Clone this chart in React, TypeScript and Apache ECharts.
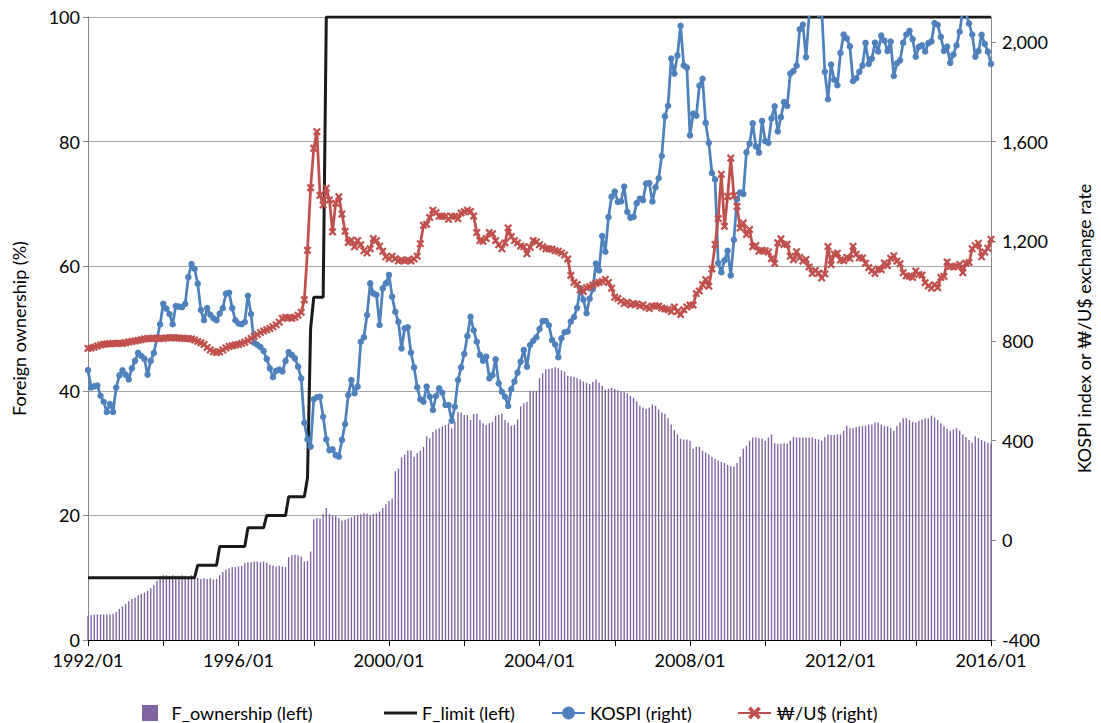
import React, { useEffect, useRef } from "react";
import * as echarts from "echarts";

// ---------- categories (monthly, 1992/01 .. 2016/01) ----------
const firstYear = 1992;
const lastYear = 2016;
const months: string[] = [];
for (let y = firstYear; y <= lastYear; y++) {
  for (let m = 1; m <= 12; m++) {
    if (y === lastYear && m > 1) break;
    months.push(`${y}/${m < 10 ? "0" + m : m}`);
  }
}

// ---------- series values ----------
// Foreign ownership of listed shares (%), left axis
const fOwnership: number[] = [
  3.9, 4.0, 4.1, 4.1, 4.1, 4.1, 4.1, 4.1, 4.2, 4.5, 5.0, 5.4, // 1992
  5.8, 6.2, 6.6, 6.8, 7.2, 7.4, 7.6, 7.9, 8.3, 8.8, 9.5, 10.2, // 1993
  10.4, 10.4, 10.3, 10.4, 10.3, 10.3, 10.4, 10.3, 10.2, 10.4, 10.3, 10.0, // 1994
  9.8, 9.9, 9.8, 9.9, 9.7, 9.8, 10.4, 10.9, 11.3, 11.5, 11.7, 11.7, // 1995
  11.8, 11.9, 12.3, 12.5, 12.5, 12.6, 12.6, 12.5, 12.6, 12.4, 12.1, 11.9, // 1996
  11.8, 11.9, 11.8, 11.7, 13.3, 13.6, 13.7, 13.6, 13.4, 12.6, 12.7, 14.2, // 1997
  19.4, 19.6, 19.5, 20.2, 21.2, 20.2, 20.0, 19.9, 19.6, 19.2, 19.3, 19.5, // 1998
  19.7, 19.9, 20.1, 20.2, 20.4, 20.3, 20.0, 20.2, 20.3, 20.6, 21.2, 21.8, // 1999
  22.3, 22.7, 27.1, 27.5, 29.3, 29.8, 30.4, 30.4, 29.4, 30.0, 30.4, 31.0, // 2000
  32.7, 32.4, 33.4, 33.8, 34.0, 34.3, 34.5, 34.8, 34.0, 35.0, 36.6, 36.5, // 2001
  36.1, 36.1, 35.3, 36.3, 36.3, 35.3, 34.8, 34.5, 34.8, 35.0, 36.0, 36.1, // 2002
  36.3, 35.3, 34.9, 34.4, 34.5, 35.4, 37.5, 38.0, 38.2, 40.0, 40.0, 40.0, // 2003
  42.0, 42.8, 43.4, 43.5, 43.6, 43.8, 43.6, 43.3, 43.1, 42.4, 42.3, 42.2, // 2004
  42.0, 41.8, 41.5, 41.3, 41.1, 41.4, 41.8, 41.3, 40.8, 40.2, 40.3, 40.5, // 2005
  40.3, 40.1, 39.9, 39.9, 39.6, 39.2, 38.9, 38.3, 37.6, 37.3, 37.1, 37.3, // 2006
  37.8, 37.6, 37.0, 36.5, 36.3, 35.6, 34.6, 33.7, 33.0, 32.3, 32.2, 32.2, // 2007
  32.0, 30.7, 31.0, 31.0, 30.4, 30.1, 29.8, 29.4, 29.1, 28.8, 28.6, 28.4, // 2008
  28.1, 27.9, 27.8, 28.4, 29.4, 30.7, 31.2, 32.0, 32.5, 32.5, 32.4, 32.3, // 2009
  32.0, 32.5, 33.0, 31.6, 31.5, 31.5, 31.6, 31.5, 32.0, 32.6, 32.5, 32.5, // 2010
  32.5, 32.5, 32.5, 32.5, 32.3, 32.2, 32.0, 32.6, 33.0, 32.9, 32.9, 33.0, // 2011
  33.0, 33.6, 34.4, 34.0, 34.0, 34.2, 34.3, 34.3, 34.4, 34.6, 34.6, 34.9, // 2012
  34.9, 34.6, 34.3, 34.3, 34.0, 33.6, 34.3, 34.9, 35.6, 35.6, 35.3, 35.0, // 2013
  34.9, 35.2, 35.4, 35.6, 35.6, 36.0, 35.7, 35.3, 34.8, 34.3, 33.9, 33.6, // 2014
  33.8, 34.0, 33.6, 33.0, 32.6, 32.1, 31.7, 32.7, 32.4, 32.1, 31.9, 31.7, // 2015
  31.6, // 2016/01
];

// Foreign ownership limit (%): month it took effect and new level
const fLimitSteps: [string, number][] = [
  ["1992/01", 10],
  ["1994/12", 12],
  ["1995/07", 15],
  ["1996/04", 18],
  ["1996/10", 20],
  ["1997/05", 23],
  ["1997/11", 26],
  ["1997/12", 50],
  ["1998/01", 55],
  ["1998/05", 100],
];

// KOSPI index, right axis
const kospi: number[] = [
  683, 613, 618, 621, 580, 556, 515, 547, 515, 613, 662, 682, // 1992
  665, 646, 690, 720, 752, 740, 728, 665, 720, 752, 810, 867, // 1993
  949, 930, 908, 867, 940, 938, 936, 949, 1056, 1109, 1090, 1030, // 1994
  924, 883, 932, 905, 891, 883, 910, 932, 990, 993, 932, 883, // 1995
  870, 867, 876, 981, 908, 793, 785, 776, 760, 728, 690, 655, // 1996
  680, 685, 678, 720, 755, 744, 730, 697, 650, 472, 405, 376, // 1997
  566, 574, 576, 496, 405, 362, 365, 342, 336, 403, 467, 583, // 1998
  643, 590, 617, 797, 815, 904, 1031, 991, 985, 864, 1011, 1031, // 1999
  1065, 978, 917, 877, 770, 851, 855, 753, 694, 614, 566, 556, // 2000
  617, 576, 523, 579, 610, 592, 543, 543, 480, 536, 643, 694, // 2001
  748, 820, 897, 843, 797, 744, 721, 737, 650, 663, 726, 630, // 2002
  596, 576, 539, 606, 637, 673, 717, 764, 697, 784, 801, 815, // 2003
  848, 880, 880, 863, 804, 786, 735, 811, 835, 838, 878, 896, // 2004
  933, 1011, 966, 911, 970, 1008, 1111, 1083, 1221, 1158, 1297, 1379, // 2005
  1400, 1358, 1360, 1420, 1318, 1295, 1298, 1353, 1371, 1365, 1432, 1434, // 2006
  1360, 1417, 1453, 1542, 1701, 1744, 1933, 1873, 1946, 2065, 1906, 1897, // 2007
  1625, 1712, 1704, 1825, 1852, 1675, 1595, 1474, 1448, 1113, 1076, 1124, // 2008
  1162, 1063, 1206, 1369, 1396, 1390, 1557, 1592, 1673, 1581, 1556, 1683, // 2009
  1602, 1595, 1693, 1742, 1641, 1698, 1759, 1743, 1873, 1883, 1905, 2051, // 2010
  2070, 1939, 2107, 2192, 2142, 2101, 2133, 1880, 1770, 1909, 1848, 1826, // 2011
  1956, 2030, 2014, 1982, 1843, 1854, 1880, 1905, 1996, 1912, 1933, 1997, // 2012
  1962, 2026, 2005, 1964, 2001, 1863, 1914, 1926, 1997, 2030, 2045, 2011, // 2013
  1941, 1980, 1986, 1962, 1995, 2002, 2076, 2069, 2020, 1964, 1981, 1916, // 2014
  1949, 1986, 2041, 2127, 2115, 2074, 2030, 1941, 1963, 2029, 1992, 1961, // 2015
  1912, // 2016/01
];

// Won / US dollar exchange rate, right axis
const wonDollar: number[] = [
  770, 772, 775, 780, 784, 787, 788, 789, 790, 790, 791, 790, // 1992
  793, 796, 798, 800, 802, 805, 808, 810, 810, 811, 811, 810, // 1993
  810, 812, 813, 813, 812, 812, 811, 810, 810, 808, 804, 798, // 1994
  793, 786, 774, 764, 757, 754, 756, 764, 772, 778, 781, 784, // 1995
  786, 790, 795, 802, 810, 818, 826, 834, 840, 845, 850, 857, // 1996
  865, 875, 891, 895, 893, 891, 895, 903, 915, 965, 1164, 1415, // 1997
  1573, 1640, 1384, 1346, 1413, 1366, 1238, 1353, 1379, 1309, 1240, 1195, // 1998
  1205, 1178, 1203, 1186, 1162, 1153, 1170, 1211, 1203, 1180, 1160, 1138, // 1999
  1130, 1140, 1130, 1121, 1125, 1121, 1125, 1121, 1129, 1140, 1190, 1264, // 2000
  1268, 1295, 1325, 1315, 1300, 1300, 1300, 1288, 1300, 1300, 1290, 1313, // 2001
  1318, 1325, 1320, 1301, 1235, 1203, 1200, 1211, 1235, 1230, 1203, 1186, // 2002
  1170, 1194, 1254, 1219, 1203, 1194, 1181, 1178, 1150, 1176, 1203, 1198, // 2003
  1186, 1178, 1170, 1170, 1168, 1162, 1160, 1153, 1145, 1129, 1063, 1035, // 2004
  1027, 1005, 998, 1014, 1018, 1025, 1031, 1035, 1039, 1047, 1035, 1012, // 2005
  975, 970, 960, 950, 955, 945, 950, 948, 940, 945, 935, 930, // 2006
  940, 940, 940, 932, 928, 926, 918, 936, 918, 906, 925, 936, // 2007
  944, 944, 990, 1000, 1026, 1046, 1020, 1089, 1187, 1291, 1469, 1260, // 2008
  1380, 1534, 1383, 1340, 1253, 1273, 1227, 1247, 1178, 1183, 1160, 1164, // 2009
  1162, 1157, 1130, 1111, 1194, 1210, 1187, 1188, 1140, 1126, 1158, 1135, // 2010
  1120, 1127, 1097, 1071, 1083, 1072, 1053, 1069, 1179, 1106, 1149, 1152, // 2011
  1125, 1122, 1136, 1131, 1180, 1148, 1134, 1133, 1112, 1094, 1082, 1071, // 2012
  1089, 1086, 1113, 1102, 1132, 1142, 1120, 1110, 1074, 1061, 1060, 1055, // 2013
  1081, 1067, 1064, 1034, 1021, 1012, 1026, 1014, 1055, 1059, 1117, 1099, // 2014
  1097, 1100, 1107, 1074, 1112, 1115, 1170, 1182, 1192, 1138, 1157, 1172, // 2015
  1208, // 2016/01
];

// ---------- axis settings ----------
const leftTicks = { min: 0, max: 100, interval: 20 };
const rightTicks = [-400, 0, 400, 800, 1200, 1600, 2000];
const rightMin = -400;
const rightMax = 2100;

const seriesNames = {
  own: "F_ownership (left)",
  limit: "F_limit (left)",
  kospi: "KOSPI (right)",
  fx: "\u20A9/U$ (right)",
};

// expand the limit steps into a monthly series
const fLimit: number[] = months.map((label) => {
  let v = fLimitSteps[0][1];
  for (const [from, val] of fLimitSteps) if (label >= from) v = val;
  return v;
});

const FONT = "Lato, 'Open Sans', sans-serif";
const FS = 18;
const X_SYMBOL =
  "path://M0,2 L2,0 L5,3 L8,0 L10,2 L7,5 L10,8 L8,10 L5,7 L2,10 L0,8 L3,5 Z";

const legendBase = {
  top: 699,
  itemWidth: 33,
  itemHeight: 16,
  textStyle: { fontFamily: FONT, fontSize: FS, color: "#000" },
};

export default function App() {
  const ref = useRef<HTMLDivElement>(null);

  useEffect(() => {
    if (!ref.current) return;
    const chart = echarts.init(ref.current, undefined, { renderer: "svg" });
    const fmt = (v: number) => (v > 2000 ? "" : v.toLocaleString("en-US"));

    chart.setOption({
      animation: false,
      backgroundColor: "#ffffff",
      textStyle: { fontFamily: FONT, color: "#000" },
      grid: { left: 88, right: 109, top: 17, bottom: 83 },
      legend: [
        {
          ...legendBase,
          left: 137,
          data: [{ name: seriesNames.own, icon: "path://M0,0H10V10H0Z" }],
        },
        {
          ...legendBase,
          left: 379,
          data: [{ name: seriesNames.limit, icon: "path://M0,0H33V3.2H0Z" }],
        },
        { ...legendBase, left: 546, data: [{ name: seriesNames.kospi }] },
        { ...legendBase, left: 732, data: [{ name: seriesNames.fx }] },
      ],
      xAxis: {
        type: "category",
        data: months,
        boundaryGap: false,
        axisLine: { lineStyle: { color: "#000", width: 1 } },
        axisTick: { interval: 23, length: 6, lineStyle: { color: "#000" } },
        axisLabel: {
          interval: 47,
          color: "#000",
          fontSize: FS,
          fontFamily: FONT,
          margin: 11,
        },
        splitLine: { show: false },
      },
      yAxis: [
        {
          type: "value",
          position: "left",
          min: leftTicks.min,
          max: leftTicks.max,
          interval: leftTicks.interval,
          name: "Foreign ownership (%)",
          nameLocation: "middle",
          nameRotate: 90,
          nameGap: 60,
          nameTextStyle: { fontFamily: FONT, fontSize: FS, color: "#000" },
          axisLine: { show: true, lineStyle: { color: "#868686" } },
          axisTick: { show: true, length: 5, lineStyle: { color: "#868686" } },
          axisLabel: { color: "#000", fontSize: FS, fontFamily: FONT, margin: 8 },
          splitLine: { show: true, lineStyle: { color: "#A6A6A6", width: 1 } },
        },
        {
          type: "value",
          position: "right",
          min: rightMin,
          max: rightMax,
          interval: 400,
          name: "KOSPI index or \u20A9/U$ exchange rate",
          nameLocation: "middle",
          nameRotate: 90,
          nameGap: 84,
          nameTextStyle: { fontFamily: FONT, fontSize: FS, color: "#000" },
          axisLine: { show: true, lineStyle: { color: "#868686" } },
          axisTick: {
            show: true,
            length: 5,
            customValues: rightTicks,
            lineStyle: { color: "#868686" },
          },
          axisLabel: {
            color: "#000",
            fontSize: FS,
            fontFamily: FONT,
            margin: 11,
            customValues: rightTicks,
            formatter: fmt,
          },
          splitLine: { show: false },
        },
      ],
      series: [
        {
          name: seriesNames.own,
          type: "bar",
          yAxisIndex: 0,
          data: fOwnership,
          barWidth: 1.4,
          itemStyle: { color: "#8064A2" },
        },
        {
          name: seriesNames.limit,
          type: "line",
          yAxisIndex: 0,
          data: fLimit,
          symbol: "none",
          lineStyle: { color: "#1A1A1A", width: 3 },
          itemStyle: { color: "#1A1A1A" },
        },
        {
          name: seriesNames.kospi,
          type: "line",
          yAxisIndex: 1,
          data: kospi,
          symbol: "circle",
          symbolSize: 6.5,
          showAllSymbol: true,
          lineStyle: { color: "#4F81BD", width: 2.75 },
          itemStyle: { color: "#4F81BD" },
        },
        {
          name: seriesNames.fx,
          type: "line",
          yAxisIndex: 1,
          data: wonDollar,
          symbol: X_SYMBOL,
          symbolSize: 8,
          showAllSymbol: true,
          lineStyle: { color: "#C0504D", width: 2.75 },
          itemStyle: { color: "#C0504D" },
        },
      ],
    });

    return () => chart.dispose();
  }, []);

  return (
    <div
      ref={ref}
      style={{ position: "fixed", left: 0, top: 0, width: 1101, height: 723 }}
    />
  );
}
